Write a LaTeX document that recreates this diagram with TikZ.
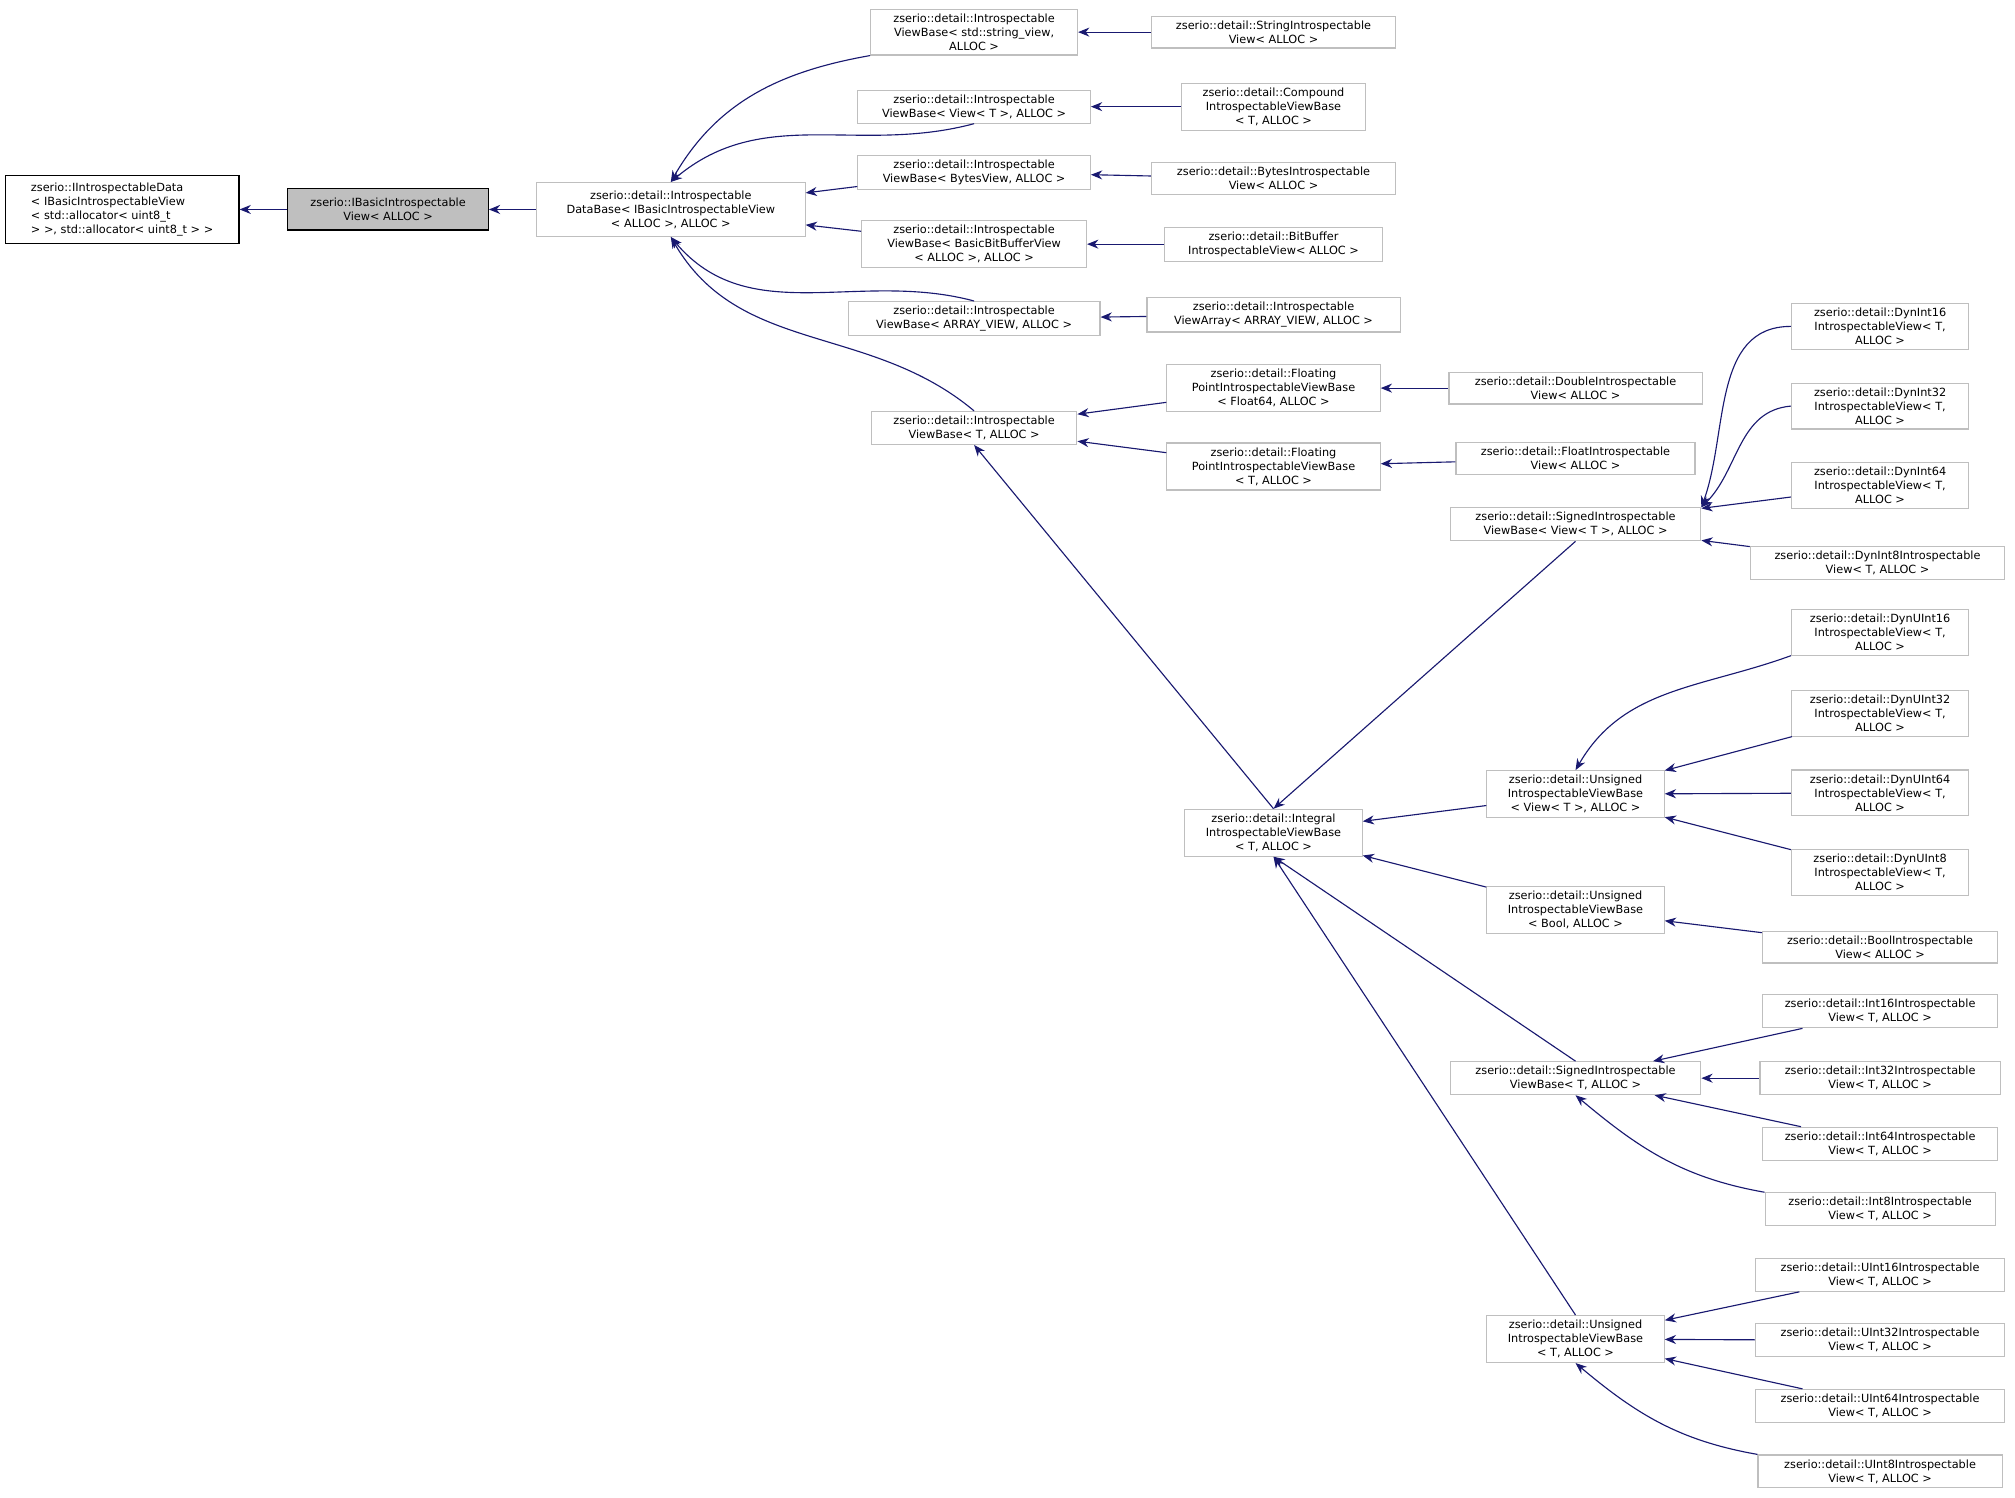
\documentclass[tikz,border=0pt]{standalone}
\usepackage{fontspec}
\setmainfont{DejaVu Sans}
\usetikzlibrary{arrows.meta}
\definecolor{edgeblue}{HTML}{191970}
\definecolor{boxgray}{HTML}{BFBFBF}
\tikzset{
  cls/.style={draw=boxgray, fill=white, font=\fontsize{5}{6.2}\selectfont, align=center, inner xsep=3pt, inner ysep=2pt, line width=0.5pt},
  inh/.style={{Stealth[length=5pt,width=4pt]}-, edgeblue, line width=0.5pt}
}
\begin{document}
\begin{tikzpicture}[x=0.02cm, y=-0.02cm]
        \useasboundingbox (0, 0) rectangle (1568, 1165);
        % root and interface
        \node[cls, draw=black, align=left, minimum width=3.64cm, minimum height=1.06cm] (idata) at (95, 163) {zserio::IIntrospectableData\\< IBasicIntrospectableView\\< std::allocator< uint8\_t\\ > >, std::allocator< uint8\_t > >};
        \node[cls, draw=black, fill=boxgray, minimum width=3.12cm, minimum height=0.64cm] (ibasic) at (302, 163) {zserio::IBasicIntrospectable\\View< ALLOC >};
        \node[cls, minimum width=4.18cm, minimum height=0.84cm] (database) at (522, 163) {zserio::detail::Introspectable\\DataBase< IBasicIntrospectableView\\< ALLOC >, ALLOC >};
        % view bases
        \node[cls, minimum width=3.22cm] (vbstr) at (758, 25) {zserio::detail::Introspectable\\ViewBase< std::string\_view,\\ALLOC >};
        \node[cls, minimum width=3.62cm] (vbview) at (758, 83) {zserio::detail::Introspectable\\ViewBase< View< T >, ALLOC >};
        \node[cls, minimum width=3.62cm] (vbbytes) at (758, 134) {zserio::detail::Introspectable\\ViewBase< BytesView, ALLOC >};
        \node[cls, minimum width=3.5cm] (vbbit) at (758, 190) {zserio::detail::Introspectable\\ViewBase< BasicBitBufferView\\< ALLOC >, ALLOC >};
        \node[cls, minimum width=3.92cm] (vbarr) at (758, 248) {zserio::detail::Introspectable\\ViewBase< ARRAY\_VIEW, ALLOC >};
        \node[cls, minimum width=3.2cm] (vbt) at (758, 333) {zserio::detail::Introspectable\\ViewBase< T, ALLOC >};
        % leaves of the view bases
        \node[cls, minimum width=3.8cm] (strv) at (991, 25) {zserio::detail::StringIntrospectable\\View< ALLOC >};
        \node[cls, minimum width=2.86cm] (compv) at (991, 83) {zserio::detail::Compound\\IntrospectableViewBase\\< T, ALLOC >};
        \node[cls, minimum width=3.8cm] (bytesv) at (991, 139) {zserio::detail::BytesIntrospectable\\View< ALLOC >};
        \node[cls, minimum width=3.4cm] (bitv) at (991, 190) {zserio::detail::BitBuffer\\IntrospectableView< ALLOC >};
        \node[cls, minimum width=3.94cm] (arrv) at (991, 245) {zserio::detail::Introspectable\\ViewArray< ARRAY\_VIEW, ALLOC >};
        \node[cls, minimum width=3.32cm] (fp64) at (991, 302) {zserio::detail::Floating\\PointIntrospectableViewBase\\< Float64, ALLOC >};
        \node[cls, minimum width=3.32cm] (fpt) at (991, 363) {zserio::detail::Floating\\PointIntrospectableViewBase\\< T, ALLOC >};
        \node[cls, minimum width=2.76cm] (integral) at (991, 648) {zserio::detail::Integral\\IntrospectableViewBase\\< T, ALLOC >};
        \node[cls, minimum width=3.94cm] (dblv) at (1226, 302) {zserio::detail::DoubleIntrospectable\\View< ALLOC >};
        \node[cls, minimum width=3.72cm] (fltv) at (1226, 357) {zserio::detail::FloatIntrospectable\\View< ALLOC >};
        % integral bases
        \node[cls, minimum width=3.9cm] (sview) at (1226, 408) {zserio::detail::SignedIntrospectable\\ViewBase< View< T >, ALLOC >};
        \node[cls, minimum width=2.76cm] (uview) at (1226, 618) {zserio::detail::Unsigned\\IntrospectableViewBase\\< View< T >, ALLOC >};
        \node[cls, minimum width=2.76cm] (ubool) at (1226, 708) {zserio::detail::Unsigned\\IntrospectableViewBase\\< Bool, ALLOC >};
        \node[cls, minimum width=3.9cm] (st) at (1226, 839) {zserio::detail::SignedIntrospectable\\ViewBase< T, ALLOC >};
        \node[cls, minimum width=2.76cm] (ut) at (1226, 1042) {zserio::detail::Unsigned\\IntrospectableViewBase\\< T, ALLOC >};
        % right column
        \node[cls, minimum width=2.76cm] (dyn16) at (1463, 254) {zserio::detail::DynInt16\\IntrospectableView< T,\\ALLOC >};
        \node[cls, minimum width=2.76cm] (dyn32) at (1463, 316) {zserio::detail::DynInt32\\IntrospectableView< T,\\ALLOC >};
        \node[cls, minimum width=2.76cm] (dyn64) at (1463, 378) {zserio::detail::DynInt64\\IntrospectableView< T,\\ALLOC >};
        \node[cls, minimum width=3.96cm] (dyn8) at (1461, 438) {zserio::detail::DynInt8Introspectable\\View< T, ALLOC >};
        \node[cls, minimum width=2.76cm] (dynu16) at (1463, 492) {zserio::detail::DynUInt16\\IntrospectableView< T,\\ALLOC >};
        \node[cls, minimum width=2.76cm] (dynu32) at (1463, 555) {zserio::detail::DynUInt32\\IntrospectableView< T,\\ALLOC >};
        \node[cls, minimum width=2.76cm] (dynu64) at (1463, 617) {zserio::detail::DynUInt64\\IntrospectableView< T,\\ALLOC >};
        \node[cls, minimum width=2.76cm] (dynu8) at (1463, 679) {zserio::detail::DynUInt8\\IntrospectableView< T,\\ALLOC >};
        \node[cls, minimum width=3.66cm] (boolv) at (1463, 737) {zserio::detail::BoolIntrospectable\\View< ALLOC >};
        \node[cls, minimum width=3.66cm] (i16) at (1463, 787) {zserio::detail::Int16Introspectable\\View< T, ALLOC >};
        \node[cls, minimum width=3.74cm] (i32) at (1463, 839) {zserio::detail::Int32Introspectable\\View< T, ALLOC >};
        \node[cls, minimum width=3.66cm] (i64) at (1463, 890) {zserio::detail::Int64Introspectable\\View< T, ALLOC >};
        \node[cls, minimum width=3.58cm] (i8) at (1463, 941) {zserio::detail::Int8Introspectable\\View< T, ALLOC >};
        \node[cls, minimum width=3.88cm] (u16) at (1463, 992) {zserio::detail::UInt16Introspectable\\View< T, ALLOC >};
        \node[cls, minimum width=3.88cm] (u32) at (1463, 1043) {zserio::detail::UInt32Introspectable\\View< T, ALLOC >};
        \node[cls, minimum width=3.88cm] (u64) at (1463, 1094) {zserio::detail::UInt64Introspectable\\View< T, ALLOC >};
        \node[cls, minimum width=3.8cm] (u8) at (1463, 1145) {zserio::detail::UInt8Introspectable\\View< T, ALLOC >};
        % inheritance edges
        \draw[inh] (idata) -- (ibasic);
        \draw[inh] (ibasic) -- (database);
        \draw[inh] (database.north) to[out=60, in=190] (vbstr.south west);
        \draw[inh] (database.north) to[out=40, in=195] (vbview.south);
        \draw[inh] (database) -- (vbbytes);
        \draw[inh] (database) -- (vbbit);
        \draw[inh] (database.south) to[out=-50, in=165] (vbarr.north);
        \draw[inh] (database.south) to[out=-60, in=140] (vbt.north);
        \draw[inh] (vbstr) -- (strv);
        \draw[inh] (vbview) -- (compv);
        \draw[inh] (vbbytes) -- (bytesv);
        \draw[inh] (vbbit) -- (bitv);
        \draw[inh] (vbarr) -- (arrv);
        \draw[inh] (vbt) -- (fp64);
        \draw[inh] (vbt) -- (fpt);
        \draw[inh] (vbt.south) -- (integral.north);
        \draw[inh] (fp64) -- (dblv);
        \draw[inh] (fpt) -- (fltv);
        \draw[inh] (integral.north) -- (sview.south);
        \draw[inh] (integral) -- (uview);
        \draw[inh] (integral) -- (ubool);
        \draw[inh] (integral.south) -- (st.north);
        \draw[inh] (integral.south) -- (ut.north);
        \draw[inh] (sview.north east) to[out=70, in=180] (dyn16.west);
        \draw[inh] (sview.north east) to[out=45, in=185] (dyn32.west);
        \draw[inh] (sview) -- (dyn64);
        \draw[inh] (sview) -- (dyn8);
        \draw[inh] (uview.north) to[out=60, in=200] (dynu16.south west);
        \draw[inh] (uview) -- (dynu32);
        \draw[inh] (uview) -- (dynu64);
        \draw[inh] (uview) -- (dynu8);
        \draw[inh] (ubool) -- (boolv);
        \draw[inh] (st) -- (i16);
        \draw[inh] (st) -- (i32);
        \draw[inh] (st) -- (i64);
        \draw[inh] (st.south) to[out=-40, in=170] (i8.north west);
        \draw[inh] (ut) -- (u16);
        \draw[inh] (ut) -- (u32);
        \draw[inh] (ut) -- (u64);
        \draw[inh] (ut.south) to[out=-40, in=170] (u8.north west);
\end{tikzpicture}
\end{document}
